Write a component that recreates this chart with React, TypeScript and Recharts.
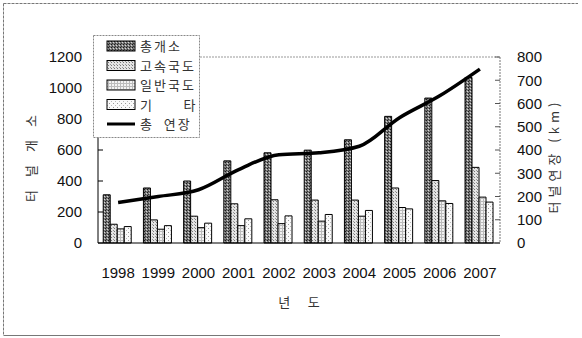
import { ComposedChart, Bar, Line, XAxis, YAxis, Legend, ReferenceLine } from 'recharts';

// ─── Data ─────────────────────────────────────────────────────────────────────

const years = ['1998', '1999', '2000', '2001', '2002', '2003', '2004', '2005', '2006', '2007'];
const totalCount = [311, 355, 400, 530, 582, 599, 666, 817, 935, 1068];
const expressway = [121, 149, 173, 253, 279, 277, 277, 355, 403, 488];
const nationalRoad = [91, 89, 99, 112, 125, 141, 173, 229, 272, 296];
const others = [106, 112, 128, 156, 175, 184, 210, 220, 255, 264];
const totalLength = [174, 200, 229, 316, 380, 388, 416, 539, 633, 748];

const leftTicks = [0, 200, 400, 600, 800, 1000, 1200];
const rightTicks = [0, 100, 200, 300, 400, 500, 600, 700, 800];

const chartData = years.map((year, i) => ({
  year,
  total: totalCount[i],
  express: expressway[i],
  national: nationalRoad[i],
  other: others[i],
  length: totalLength[i],
}));

const NUM_FONT = '"Liberation Sans", Arial, sans-serif';
const KR_FONT = '"Noto Sans CJK KR", "Liberation Sans", sans-serif';

const legendItems = [
  { label: '총개소', fill: 'url(#pTotal)', line: false },
  { label: '고속국도', fill: 'url(#pExpress)', line: false },
  { label: '일반국도', fill: 'url(#pNational)', line: false },
  { label: '기      타', fill: 'url(#pOther)', line: false },
  { label: '총  연장', fill: '#000', line: true },
];

// ─── Patterns ─────────────────────────────────────────────────────────────────

function Patterns() {
  return (
    <defs>
      <pattern id="pTotal" width="3" height="3" patternUnits="userSpaceOnUse">
        <rect width="3" height="3" fill="#7a7a7a" />
        <rect width="1" height="1" fill="#1a1a1a" />
        <rect x="2" y="1" width="1" height="1" fill="#d8d8d8" />
        <rect x="1" y="2" width="1" height="1" fill="#333" />
      </pattern>
      <pattern id="pExpress" width="3" height="3" patternUnits="userSpaceOnUse">
        <rect width="3" height="3" fill="#e4e4e4" />
        <rect width="1" height="1" fill="#777" />
        <rect x="2" y="2" width="1" height="1" fill="#999" />
      </pattern>
      <pattern id="pNational" width="3" height="3" patternUnits="userSpaceOnUse">
        <rect width="3" height="3" fill="#f2f2f2" />
        <rect width="3" height="1" fill="#bbb" />
        <rect width="1" height="3" fill="#bbb" />
      </pattern>
      <pattern id="pOther" width="4" height="4" patternUnits="userSpaceOnUse">
        <rect width="4" height="4" fill="#fafafa" />
        <rect width="1" height="1" fill="#999" />
        <rect x="2" y="2" width="1" height="1" fill="#bbb" />
      </pattern>
    </defs>
  );
}

// ─── Legend ───────────────────────────────────────────────────────────────────

function ChartLegend() {
  return (
    <svg width={107} height={103} style={{ display: 'block' }}>
      <rect x={0.5} y={0.5} width={106} height={102} fill="#fff" stroke="#888" strokeDasharray="2 1" />
      {legendItems.map((item, i) => {
        const cy = 11 + i * 19.5;
        return (
          <g key={item.label}>
            {item.line ? (
              <line x1={14} x2={42} y1={cy} y2={cy} stroke="#000" strokeWidth={3} />
            ) : (
              <rect x={14} y={cy - 5} width={28} height={10} fill={item.fill} stroke="#000" strokeWidth={1} />
            )}
            <text
              x={47}
              y={cy + 5}
              fontSize={13}
              fontFamily={KR_FONT}
              fill="#333"
              letterSpacing={2}
              style={{ whiteSpace: 'pre' }}
            >
              {item.label}
            </text>
          </g>
        );
      })}
    </svg>
  );
}

// ─── Axis titles ──────────────────────────────────────────────────────────────

function AxisTitle({ x, y, text, spacing }: { x: number; y: number; text: string; spacing: number }) {
  return (
    <text
      x={x}
      y={y}
      transform={`rotate(-90, ${x}, ${y})`}
      textAnchor="middle"
      dominantBaseline="central"
      fontSize={13}
      fontFamily={KR_FONT}
      fill="#333"
      letterSpacing={spacing}
    >
      {text}
    </text>
  );
}

// ─── Chart ────────────────────────────────────────────────────────────────────

export default function App() {
  const tick = { fontSize: 15, fill: '#111', fontFamily: NUM_FONT };

  return (
    <div
      style={{
        position: 'fixed',
        left: 0,
        top: 0,
        width: 582,
        height: 338,
        background: '#fff',
      }}
    >
      <svg width={582} height={338} style={{ position: 'absolute', left: 0, top: 0 }}>
        <line x1={3.5} y1={3.5} x2={578} y2={3.5} stroke="#777" strokeDasharray="3 1" />
        <line x1={3.5} y1={3.5} x2={3.5} y2={335.5} stroke="#777" strokeDasharray="3 1" />
        <line x1={3.5} y1={335.5} x2={500} y2={335.5} stroke="#777" />
      </svg>
      <div style={{ position: 'absolute', left: 0, top: 0 }}>
        <ComposedChart
          width={582}
          height={338}
          data={chartData}
          margin={{ top: 57, right: 0, left: 0, bottom: 25 }}
          barCategoryGap="13%"
          barGap={0}
        >
          <Patterns />
          <XAxis
            dataKey="year"
            height={70}
            axisLine={{ stroke: '#000' }}
            tickLine={false}
            tickSize={0}
            tickMargin={24}
            tick={tick}
            interval={0}
            label={{
              position: 'insideBottom',
              content: (props: any) => {
                const vb = props.viewBox;
                return (
                  <text
                    x={vb.x + vb.width / 2}
                    y={307}
                    textAnchor="middle"
                    fontSize={13}
                    fontFamily={KR_FONT}
                    fill="#333"
                    style={{ whiteSpace: 'pre' }}
                  >
                    년      도
                  </text>
                );
              },
            }}
          />
          <YAxis
            yAxisId="left"
            width={98}
            domain={[0, 1200]}
            ticks={leftTicks}
            axisLine={{ stroke: '#000' }}
            tickLine={{ stroke: '#000' }}
            tickSize={-5}
            tickMargin={21}
            tick={tick}
            label={{
              position: 'center',
              content: () => <AxisTitle x={30} y={152} text="터널개소" spacing={13} />,
            }}
          />
          <YAxis
            yAxisId="right"
            orientation="right"
            width={82}
            domain={[0, 800]}
            ticks={rightTicks}
            axisLine={{ stroke: '#777', strokeDasharray: '2 1' }}
            tickLine={{ stroke: '#555' }}
            tickSize={-5}
            tickMargin={22}
            tick={tick}
            label={{
              position: 'center',
              content: () => <AxisTitle x={553} y={156} text="터널연장 (km)" spacing={4} />,
            }}
          />
          <ReferenceLine yAxisId="left" y={1200} stroke="#999" strokeDasharray="2 1" />
          <Bar yAxisId="left" dataKey="total" fill="url(#pTotal)" stroke="#000" strokeWidth={1} isAnimationActive={false} />
          <Bar yAxisId="left" dataKey="express" fill="url(#pExpress)" stroke="#000" strokeWidth={1} isAnimationActive={false} />
          <Bar yAxisId="left" dataKey="national" fill="url(#pNational)" stroke="#000" strokeWidth={1} isAnimationActive={false} />
          <Bar yAxisId="left" dataKey="other" fill="url(#pOther)" stroke="#000" strokeWidth={1} isAnimationActive={false} />
          <Line
            yAxisId="right"
            dataKey="length"
            type="monotone"
            stroke="#000"
            strokeWidth={3.5}
            dot={false}
            isAnimationActive={false}
          />
          <Legend
            layout="vertical"
            align="center"
            verticalAlign="middle"
            content={<ChartLegend />}
            wrapperStyle={{ left: 93, top: 35, width: 107, height: 103 }}
          />
        </ComposedChart>
      </div>
    </div>
  );
}
